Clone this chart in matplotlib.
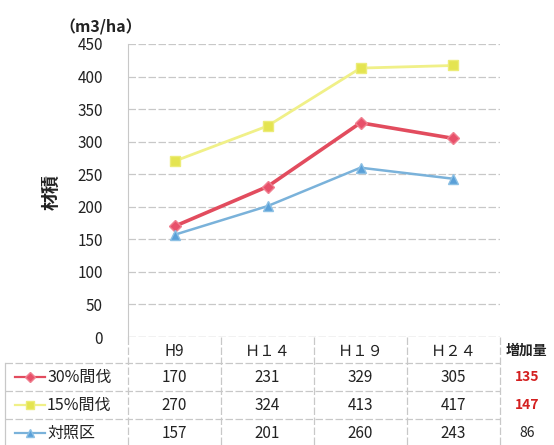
import numpy as np
import matplotlib.pyplot as plt

plt.rcParams['font.family'] = ['Noto Sans CJK JP', 'DejaVu Sans']

# data
years = ['H9', 'Ｈ１４', 'Ｈ１９', 'Ｈ２４']
thin30 = [170, 231, 329, 305]
thin15 = [270, 324, 413, 417]
control = [157, 201, 260, 243]
series_names = ['30%間伐', '15%間伐', '対照区']
increase = [135, 147, 86]

W, H = 554, 445
fig = plt.figure(figsize=(W / 100, H / 100), dpi=100)

# plot area in pixels
left, right, top, bottom = 128, 500, 44, 337
ax = fig.add_axes([left / W, (H - bottom) / H, (right - left) / W, (bottom - top) / H])

x = np.arange(len(years))
grid_c = '#c8c8c8'

styles = [
    dict(color='#e24c5e', lw=2.6, marker='D', ms=6, mfc='#e8506a', mec='#f08090'),
    dict(color='#f0f088', lw=2.0, marker='s', ms=7, mfc='#e4e450', mec='#ecec78'),
    dict(color='#7ab2da', lw=1.8, marker='^', ms=7, mfc='#5aa0d8', mec='#8cc0e4'),
]
for vals, st in zip([thin30, thin15, control], styles):
    ax.plot(x, vals, zorder=3, **st)

ax.set_xlim(-0.5, len(years) - 0.5)
ax.set_ylim(0, 450)
ax.set_yticks(np.arange(0, 451, 50))
ax.set_xticks([])
ax.tick_params(axis='y', length=0, pad=18, labelsize=11, labelcolor='#222222')
ax.grid(axis='y', color=grid_c, lw=0.9, ls=(0, (6, 2)))
for s in ['top', 'right', 'bottom']:
    ax.spines[s].set_visible(False)
ax.spines['left'].set_color(grid_c)
ax.axhline(0, color=grid_c, lw=0.9, ls=(0, (6, 2)))

ax.set_ylabel('材積', fontsize=13, fontweight='bold', color='#222222')
ax.yaxis.set_label_coords(-0.18, 0.495)
fig.text(101 / W, 1 - 27 / H, '（m3/ha）', ha='center', va='center', fontsize=11.5,
         fontweight='bold', color='#222222')

# table below, sharing the category axis
tab = fig.add_axes([left / W, 0, (right - left) / W, (H - bottom) / H], sharex=ax)
tab.set_ylim(H - bottom, 0)
tab.axis('off')
header_h, row_h = 26, 28
row_edges = [header_h + i * row_h for i in range(4)]
px = (right - left) / len(years)  # pixels per category

for i in range(len(years) + 1):
    tab.plot([i - 0.5, i - 0.5], [0, H - bottom], color=grid_c, lw=0.9,
             ls=(0, (6, 2)), clip_on=False)
lx0 = -0.5 - (left - 5) / px
for yy in row_edges[:3]:
    tab.plot([lx0, len(years) - 0.5], [yy, yy], color=grid_c, lw=0.9,
             ls=(0, (6, 2)), clip_on=False)
tab.plot([lx0, lx0], [header_h, H - bottom], color=grid_c, lw=0.9, clip_on=False)

for i, y in enumerate(years):
    tab.text(i, header_h / 2 + 1, y, ha='center', va='center', fontsize=11,
             color='#222222')
tab.text(len(years) - 0.5 + 27 / px, header_h / 2 + 1, '増加量', ha='center',
         va='center', fontsize=10, fontweight='bold', color='#222222', clip_on=False)

all_vals = [thin30, thin15, control]
inc_colors = ['#d42020', '#d42020', '#222222']
inc_weights = ['bold', 'bold', 'normal']
for r, (name, vals, st) in enumerate(zip(series_names, all_vals, styles)):
    yc = header_h + r * row_h + row_h / 2
    x1 = -0.5 - (left - 15) / px
    x2 = -0.5 - (left - 45) / px
    tab.plot([x1, x2], [yc, yc], color=st['color'], lw=1.6, clip_on=False)
    tab.plot([(x1 + x2) / 2], [yc], marker=st['marker'], ms=st['ms'] - 1,
             mfc=st['mfc'], mec=st['mec'], clip_on=False)
    tab.text(x2 + 2 / px, yc, name, ha='left', va='center', fontsize=11.5,
             color='#222222', clip_on=False)
    for i, v in enumerate(vals):
        tab.text(i, yc, str(v), ha='center', va='center', fontsize=11,
                 color='#222222')
    tab.text(len(years) - 0.5 + 27 / px, yc, str(increase[r]), ha='center',
             va='center', fontsize=10, fontweight=inc_weights[r],
             color=inc_colors[r], clip_on=False)

fig.savefig('out.png', dpi=100)
